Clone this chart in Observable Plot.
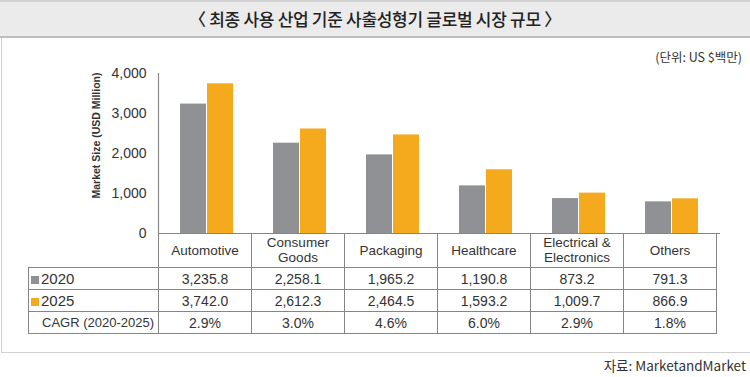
<!DOCTYPE html>
<html>
<head>
<meta charset="utf-8">
<script src="https://cdn.jsdelivr.net/npm/d3@7"></script>
<script src="https://cdn.jsdelivr.net/npm/@observablehq/plot@0.6"></script>
<style>
  body { margin:0; width:750px; height:377px; position:relative; overflow:hidden; background:#fff; }
  #title { position:absolute; left:0; top:0; width:750px; height:34px; background:#ebebeb;
    border-top:2px solid #d2d2d2; border-bottom:2px solid #bdbdbd;
    font-family:"Noto Sans CJK KR", sans-serif; font-size:17px; font-weight:500; color:#222;
    text-align:center; line-height:34px; letter-spacing:-0.3px; }
  #panel { position:absolute; left:1px; top:38px; width:760px; height:314px; border-left:1px solid #d0d0d0; border-bottom:1px solid #d0d0d0; }
  #unit { position:absolute; right:8px; top:47px; font-family:"Noto Sans CJK KR", sans-serif; font-size:12.5px; color:#333; }
  #source { position:absolute; right:4px; top:355px; font-family:"Noto Sans CJK KR", sans-serif; font-size:13.5px; color:#333; }
  #chart { position:absolute; left:0; top:37px; }
  #tbl { position:absolute; left:28px; top:233px; border-collapse:collapse; table-layout:fixed;
    font-family:"Liberation Sans", Arial, sans-serif; color:#333; }
  #tbl td { border:1px solid #858585; text-align:center; padding:0; font-size:14px; }
  #tbl tr.head td { height:34px; font-size:13.5px; line-height:15px; border-top:none; }
  #tbl tr.head td.blank { border:none; border-right:1px solid #858585; }
  #tbl tr.row td { height:21px; }
  #tbl td.lab { text-align:left; padding-left:2px; font-size:15px; }
  #tbl td.lab.cagr { font-size:13px; padding-left:13px; }
  .sw { display:inline-block; width:8px; height:8px; margin-right:2px; vertical-align:0px; }
</style>
</head>
<body>
<div id="title">〈 최종 사용 산업 기준 사출성형기 글로벌 시장 규모 〉</div>
<div id="panel"></div>
<div id="unit">(단위: US $백만)</div>
<div id="chart"></div>
<table id="tbl"></table>
<div id="source">자료: MarketandMarket</div>
<script>
const categories = ["Automotive", "Consumer\nGoods", "Packaging", "Healthcare", "Electrical &\nElectronics", "Others"];
const years = ["2020", "2025"];
const values2020 = [3235.8, 2258.1, 1965.2, 1190.8, 873.2, 791.3];
const values2025 = [3742.0, 2612.3, 2464.5, 1593.2, 1009.7, 866.9];
const cagr = ["2.9%", "3.0%", "4.6%", "6.0%", "2.9%", "1.8%"];
const cagrLabel = "CAGR (2020-2025)";
const yTicks = [0, 1000, 2000, 3000, 4000];
const yLabel = "Market Size (USD Million)";
const colors = ["#8f9194", "#f5a91d"];

const d2020 = categories.map((c, i) => ({category: c, value: values2020[i]}));
const d2025 = categories.map((c, i) => ({category: c, value: values2025[i]}));

const chart = Plot.plot({
  width: 750, height: 212,
  marginTop: 36, marginBottom: 16, marginLeft: 158, marginRight: 30,
  style: {background: "transparent", fontFamily: "Liberation Sans, Arial, sans-serif", overflow: "visible"},
  x: {domain: categories, padding: 0, axis: null},
  y: {domain: [0, 4000], axis: null},
  marks: [
    Plot.barY(d2020, {x: "category", y: "value", fill: colors[0], insetLeft: 20, insetRight: 47}),
    Plot.barY(d2025, {x: "category", y: "value", fill: colors[1], insetLeft: 47, insetRight: 20}),
    Plot.frame({anchor: "left", stroke: "#8a8a8a", strokeWidth: 1.2}),
    Plot.ruleY([0], {stroke: "#858585", strokeWidth: 1}),
    Plot.axisY({ticks: yTicks, tickSize: 0, tickPadding: 12, tickFormat: d3.format(","), fontSize: 14, fill: "#333", label: null}),
    Plot.text([yLabel], {frameAnchor: "top-left", text: d => d, rotate: -90, textAnchor: "end", dx: -66, dy: -1,
      fontSize: 10.5, fontWeight: "bold", fill: "#333"})
  ]
});
document.getElementById("chart").appendChild(chart);

// table columns follow the chart's x band scale
const xs = chart.scale("x");
const colW = xs.bandwidth;
const firstW = xs.range[0] - 28;
const tbl = document.getElementById("tbl");
let html = `<colgroup><col style="width:${firstW}px">` + categories.map(() => `<col style="width:${colW}px">`).join("") + `</colgroup>`;
html += `<tr class="head"><td class="blank"></td>` + categories.map(c => `<td>${c.replace("\n", "<br>")}</td>`).join("") + `</tr>`;
const fmt = d3.format(",.1f");
[values2020, values2025].forEach((vals, k) => {
  html += `<tr class="row"><td class="lab"><span class="sw" style="background:${colors[k]}"></span>${years[k]}</td>` +
    vals.map(v => `<td>${fmt(v)}</td>`).join("") + `</tr>`;
});
html += `<tr class="row"><td class="lab cagr">${cagrLabel}</td>` + cagr.map(v => `<td>${v}</td>`).join("") + `</tr>`;
tbl.innerHTML = html;
tbl.style.width = (firstW + colW * categories.length) + "px";
</script>
</body>
</html>
